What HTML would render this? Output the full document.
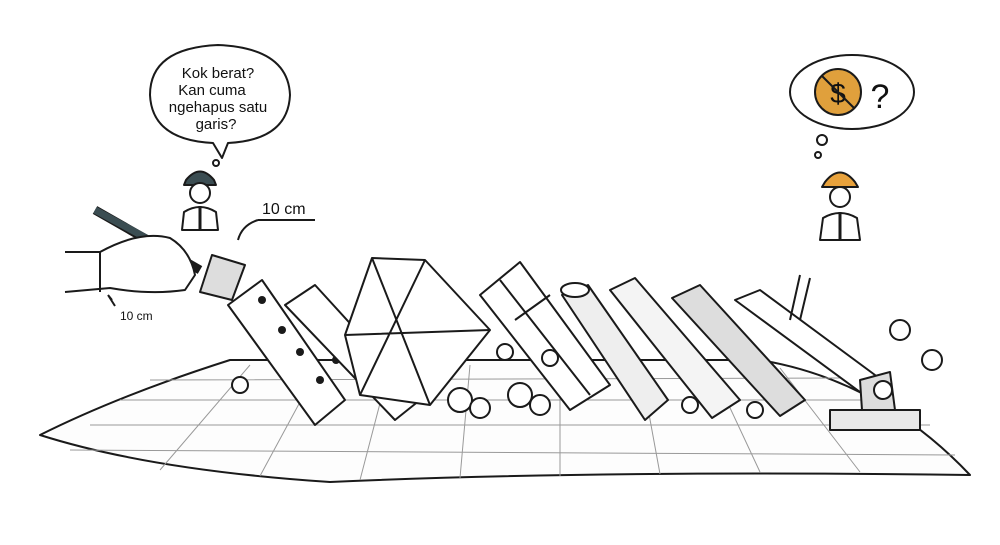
<!DOCTYPE html>
<html><head><meta charset="utf-8"><style>
html,body{margin:0;padding:0;background:#fff;width:1000px;height:545px;overflow:hidden}
svg{display:block}
text{font-family:"Liberation Sans",sans-serif;fill:#111}
</style></head><body>
<svg width="1000" height="545" viewBox="0 0 1000 545" xmlns="http://www.w3.org/2000/svg" stroke="#1a1a1a" stroke-width="2" fill="none" stroke-linejoin="round">
<!-- blueprint sheet -->
<path d="M40 435 Q120 395 230 360 L760 360 Q880 380 970 475 Q600 470 330 482 Q150 470 40 435Z" fill="#fdfdfd"/>
<g stroke="#999" stroke-width="1">
<path d="M90 425 L930 425 M120 400 L890 400 M70 450 L955 455 M150 380 L840 378"/>
<path d="M160 470 L250 365 M260 476 L320 365 M360 480 L390 365 M460 478 L470 365 M560 476 L560 365 M660 474 L640 365 M760 472 L710 365 M860 472 L780 368"/>
</g>
<!-- speech bubble left -->
<path d="M150 95 Q150 48 218 45 Q288 48 290 95 Q288 140 228 143 L222 158 L213 143 Q152 140 150 95Z" fill="#fff"/>
<circle cx="216" cy="163" r="3"/>
<text x="218" y="78" font-size="15" text-anchor="middle" stroke="none">Kok berat?</text>
<text x="212" y="95" font-size="15" text-anchor="middle" stroke="none">Kan cuma</text>
<text x="218" y="112" font-size="15" text-anchor="middle" stroke="none">ngehapus satu</text>
<text x="216" y="129" font-size="15" text-anchor="middle" stroke="none">garis?</text>
<!-- engineer left -->
<path d="M186 180 Q200 163 214 180 L216 185 L184 185Z" fill="#3b4d52"/>
<circle cx="200" cy="193" r="10" fill="#fff"/>
<path d="M182 230 L184 212 Q200 202 216 212 L218 230Z" fill="#fff"/>
<path d="M200 206 L200 230" stroke-width="3"/>
<!-- thought bubble right -->
<ellipse cx="852" cy="92" rx="62" ry="37" fill="#fff"/>
<circle cx="838" cy="92" r="23" fill="#e0a03c"/>
<text x="838" y="103" font-size="28" text-anchor="middle" stroke="none">$</text>
<path d="M822 76 L854 108"/>
<text x="880" y="108" font-size="34" text-anchor="middle" stroke="none">?</text>
<circle cx="822" cy="140" r="5"/><circle cx="818" cy="155" r="3"/>
<!-- engineer right -->
<path d="M825 182 Q840 163 855 182 L858 187 L822 187Z" fill="#e8a23c"/>
<circle cx="840" cy="197" r="10" fill="#fff"/>
<path d="M820 240 L823 218 Q840 208 857 218 L860 240Z" fill="#fff"/>
<path d="M840 212 L840 240" stroke-width="3"/>
<!-- 10 cm labels -->
<text x="262" y="214" font-size="16" stroke="none">10 cm</text>
<path d="M258 220 L315 220 M258 220 Q242 225 238 240"/>
<text x="120" y="320" font-size="12" stroke="none">10 cm</text>
<path d="M108 295 L115 306 M108 295 L112 300"/>
<!-- hand and pen -->
<path d="M95 210 L200 270" stroke="#1a1a1a" stroke-width="9" />
<path d="M95 210 L150 240" stroke="#3b4d52" stroke-width="7"/>
<path d="M65 252 L100 252 Q140 230 170 238 Q190 250 195 275 L185 290 Q150 295 110 288 L65 292" fill="#fff"/>
<path d="M100 252 L100 292"/>
<!-- brick pieces -->
<path d="M200 292 L212 255 L245 265 L232 300Z" fill="#ddd"/>
<!-- dominos -->
<path d="M228 305 L262 280 L345 400 L315 425Z" fill="#fff"/>
<g fill="#1a1a1a" stroke="none"><circle cx="262" cy="300" r="4"/><circle cx="282" cy="330" r="4"/><circle cx="300" cy="352" r="4"/><circle cx="320" cy="380" r="4"/><circle cx="306" cy="318" r="4"/><circle cx="336" cy="360" r="4"/></g>
<path d="M285 305 L315 285 L420 400 L395 420Z" fill="#fff"/>
<!-- window frame triangle -->
<path d="M345 335 L372 258 L425 260 L490 330 L430 405 L360 395Z" fill="#fff"/>
<path d="M372 258 L430 405 M345 335 L490 330 M425 260 L360 395"/>
<!-- window -->
<path d="M480 295 L520 262 L610 385 L570 410Z" fill="#fff"/>
<path d="M500 280 L590 395 M515 320 L550 295"/>
<!-- pipe -->
<path d="M562 295 L588 285 L668 400 L645 420Z" fill="#eee"/>
<ellipse cx="575" cy="290" rx="14" ry="7" fill="#fff"/>
<!-- stone slab -->
<path d="M610 290 L635 278 L740 400 L712 418Z" fill="#f4f4f4"/>
<!-- plank -->
<path d="M672 298 L700 285 L805 400 L780 416Z" fill="#ddd"/>
<!-- post + base -->
<path d="M735 300 L760 290 L875 375 L860 392Z" fill="#fff"/>
<path d="M800 275 L790 320 M810 278 L800 320"/>
<path d="M830 410 L920 410 L920 430 L830 430Z" fill="#e8e8e8"/>
<path d="M860 380 L890 372 L895 410 L862 410Z" fill="#ddd"/>
<!-- dust clouds -->
<g fill="#fff">
<circle cx="240" cy="385" r="8"/><circle cx="460" cy="400" r="12"/><circle cx="480" cy="408" r="10"/>
<circle cx="520" cy="395" r="12"/><circle cx="540" cy="405" r="10"/><circle cx="550" cy="358" r="8"/>
<circle cx="505" cy="352" r="8"/><circle cx="690" cy="405" r="8"/><circle cx="755" cy="410" r="8"/>
<circle cx="900" cy="330" r="10"/><circle cx="932" cy="360" r="10"/><circle cx="883" cy="390" r="9"/>
</g>
</svg>
</body></html>
